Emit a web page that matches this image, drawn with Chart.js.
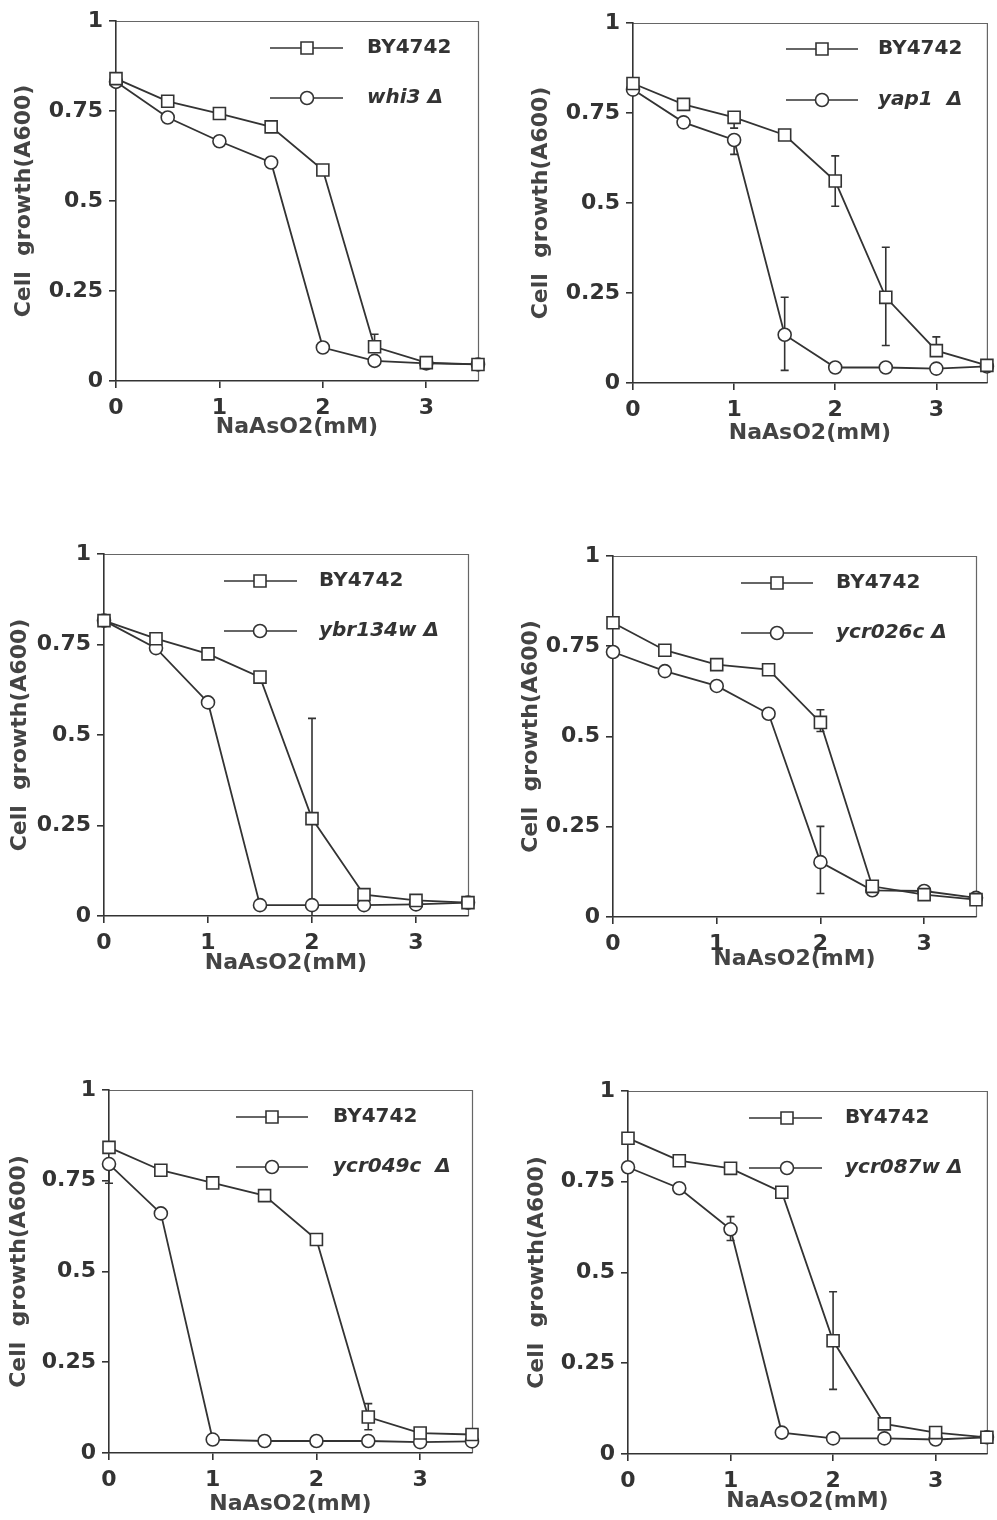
<!DOCTYPE html>
<html>
<head>
<meta charset="utf-8">
<script src="https://cdn.jsdelivr.net/npm/chart.js@4.4.0/dist/chart.umd.min.js"></script>
<style>
  body { margin: 0; background: #fff; }
  #wrap { position: relative; width: 997px; height: 1520px; overflow: hidden; background: #fff; }
  #wrap canvas { position: absolute; }
</style>
</head>
<body>
<div id="wrap"></div>
<script>
// NaAsO2 doses (mM) and axis ticks
const doses = [0, 0.5, 1, 1.5, 2, 2.5, 3, 3.5];
const xTickVals = [0, 1, 2, 3];
const yTickVals = [0, 0.25, 0.5, 0.75, 1];
const wtName = "BY4742";

// whi3 panel
const whi3Wt = [0.840, 0.777, 0.743, 0.706, 0.586, 0.095, 0.051, 0.046];
const whi3Mut = [0.831, 0.732, 0.666, 0.607, 0.093, 0.056, 0.049, 0.046];
const whi3WtErr = [null, null, null, null, null, [0.035, 0], null, null];
const whi3MutErr = [];

// yap1 panel
const yap1Wt = [0.832, 0.774, 0.738, 0.689, 0.561, 0.238, 0.090, 0.049];
const yap1Mut = [0.815, 0.724, 0.675, 0.134, 0.043, 0.043, 0.040, 0.046];
const yap1WtErr = [null, null, [0, 0.03], null, [0.07, 0.07], [0.139, 0.134], [0.038, 0], null];
const yap1MutErr = [null, null, [0, 0.04], [0.104, 0.099], null, null, null, null];

// ybr134w panel
const ybrWt = [0.816, 0.766, 0.724, 0.660, 0.269, 0.059, 0.043, 0.037];
const ybrMut = [0.816, 0.740, 0.590, 0.030, 0.030, 0.030, 0.032, 0.037];
const ybrWtErr = [null, null, null, null, [0.277, 0.269], null, null, null];
const ybrMutErr = [];

// ycr026c panel
const ycr026Wt = [0.815, 0.739, 0.699, 0.685, 0.539, 0.085, 0.062, 0.048];
const ycr026Mut = [0.734, 0.681, 0.640, 0.563, 0.152, 0.074, 0.072, 0.053];
const ycr026WtErr = [null, null, null, null, [0.035, 0.025], null, null, null];
const ycr026MutErr = [null, null, null, null, [0.099, 0.087], null, null, null];

// ycr049c panel
const ycr049Wt = [0.842, 0.779, 0.744, 0.709, 0.588, 0.099, 0.055, 0.051];
const ycr049Mut = [0.796, 0.660, 0.037, 0.033, 0.033, 0.033, 0.030, 0.032];
const ycr049WtErr = [null, null, null, null, null, [0.037, 0.035], null, null];
const ycr049MutErr = [[0, 0.053], null, null, null, null, null, null, null];

// ycr087w panel
const ycr087Wt = [0.870, 0.808, 0.787, 0.721, 0.312, 0.083, 0.059, 0.046];
const ycr087Mut = [0.790, 0.732, 0.619, 0.059, 0.043, 0.043, 0.040, 0.046];
const ycr087WtErr = [null, null, null, null, [0.135, 0.134], null, null, null];
const ycr087MutErr = [null, null, [0.035, 0.031], null, null, null, null, null];

const INK = "#333";
const FONT = "DejaVu Sans";

// page layout of each panel (canvas origin, plot area, title centres, legend)
const panels = [
  { mut: "whi3 \u0394", wt: whi3Wt, mv: whi3Mut, we: whi3WtErr, me: whi3MutErr,
    cx: 0, cy: 0, area: { l: 116, t: 21, r: 478, b: 381 }, yTitle: 24, xTitle: 426,
    leg: { x1: 270, x2: 343, mx: 307, tx: 367, rows: [48, 98] } },
  { mut: "yap1  \u0394", wt: yap1Wt, mv: yap1Mut, we: yap1WtErr, me: yap1MutErr,
    cx: 500, cy: 0, area: { l: 633, t: 23, r: 994, b: 383 }, yTitle: 541, xTitle: 432,
    leg: { x1: 786, x2: 858, mx: 822, tx: 878, rows: [49, 100] } },
  { mut: "ybr134w \u0394", wt: ybrWt, mv: ybrMut, we: ybrWtErr, me: ybrMutErr,
    cx: 0, cy: 500, area: { l: 104, t: 554, r: 468, b: 916 }, yTitle: 20, xTitle: 962,
    leg: { x1: 224, x2: 297, mx: 260, tx: 319, rows: [581, 631] } },
  { mut: "ycr026c \u0394", wt: ycr026Wt, mv: ycr026Mut, we: ycr026WtErr, me: ycr026MutErr,
    cx: 500, cy: 500, area: { l: 613, t: 556, r: 976, b: 917 }, yTitle: 531, xTitle: 958,
    leg: { x1: 741, x2: 813, mx: 777, tx: 836, rows: [583, 633] } },
  { mut: "ycr049c  \u0394", wt: ycr049Wt, mv: ycr049Mut, we: ycr049WtErr, me: ycr049MutErr,
    cx: 0, cy: 1040, area: { l: 109, t: 1090, r: 472, b: 1453 }, yTitle: 19, xTitle: 1503,
    leg: { x1: 236, x2: 308, mx: 272, tx: 333, rows: [1117, 1167] } },
  { mut: "ycr087w \u0394", wt: ycr087Wt, mv: ycr087Mut, we: ycr087WtErr, me: ycr087MutErr,
    cx: 500, cy: 1040, area: { l: 628, t: 1091, r: 991, b: 1454 }, yTitle: 537, xTitle: 1500,
    leg: { x1: 749, x2: 822, mx: 787, tx: 845, rows: [1118, 1168] } }
];

// vertical error bars, drawn under the markers
const errorBarPlugin = {
  id: "errorBars",
  beforeDatasetsDraw(chart) {
    const ctx = chart.ctx;
    const xs = chart.scales.x, ys = chart.scales.y;
    ctx.save();
    ctx.strokeStyle = INK;
    ctx.lineWidth = 1.6;
    chart.data.datasets.forEach(ds => {
      (ds.errorBars || []).forEach((e, i) => {
        if (!e) return;
        const pt = ds.data[i];
        const px = xs.getPixelForValue(pt.x);
        const top = ys.getPixelForValue(pt.y + e[0]);
        const bot = ys.getPixelForValue(Math.max(0, pt.y - e[1]));
        ctx.beginPath();
        ctx.moveTo(px, top);
        ctx.lineTo(px, bot);
        if (e[0] > 0) { ctx.moveTo(px - 4, top); ctx.lineTo(px + 4, top); }
        if (e[1] > 0 && pt.y - e[1] > 0) { ctx.moveTo(px - 4, bot); ctx.lineTo(px + 4, bot); }
        ctx.stroke();
      });
    });
    ctx.restore();
  }
};

// thin top/right frame of the plot box
const framePlugin = {
  id: "frame",
  beforeDraw(chart) {
    const { ctx, chartArea: a } = chart;
    ctx.save();
    ctx.strokeStyle = "#666";
    ctx.lineWidth = 1.2;
    ctx.beginPath();
    ctx.moveTo(a.left, a.top + 0.5);
    ctx.lineTo(a.right + 0.5, a.top + 0.5);
    ctx.lineTo(a.right + 0.5, a.bottom);
    ctx.stroke();
    ctx.restore();
  }
};

// legend inside the plot: line + marker + label
const legendPlugin = {
  id: "boxLegend",
  afterDraw(chart, args, opts) {
    const ctx = chart.ctx;
    chart.data.datasets.forEach((ds, i) => {
      const y = opts.rows[i];
      ctx.save();
      ctx.strokeStyle = INK;
      ctx.lineWidth = 1.6;
      ctx.beginPath();
      ctx.moveTo(opts.x1, y);
      ctx.lineTo(opts.x2, y);
      ctx.stroke();
      ctx.fillStyle = "#fff";
      ctx.beginPath();
      if (ds.pointStyle === "rect") {
        ctx.rect(opts.mx - 6, y - 6, 12, 12);
      } else {
        ctx.arc(opts.mx, y, 6.5, 0, Math.PI * 2);
      }
      ctx.fill();
      ctx.stroke();
      ctx.fillStyle = INK;
      ctx.font = (i ? "italic " : "") + "bold 20px '" + FONT + "'";
      ctx.textBaseline = "middle";
      ctx.fillText(ds.label, opts.tx, y);
      ctx.restore();
    });
  }
};

const wrap = document.getElementById("wrap");

panels.forEach(p => {
  const W = 497;
  const H = Math.ceil(p.xTitle - p.cy + 13.2 + 2);
  const canvas = document.createElement("canvas");
  canvas.width = W;
  canvas.height = H;
  canvas.style.left = p.cx + "px";
  canvas.style.top = p.cy + "px";
  wrap.appendChild(canvas);

  const yW = p.area.l - p.cx;
  const xH = p.cy + H - p.area.b;
  const leg = {
    x1: p.leg.x1 - p.cx, x2: p.leg.x2 - p.cx, mx: p.leg.mx - p.cx, tx: p.leg.tx - p.cx,
    rows: p.leg.rows.map(r => r - p.cy)
  };
  const tickFont = { family: FONT, size: 22, weight: "bold" };

  new Chart(canvas, {
    type: "line",
    data: {
      datasets: [
        {
          label: wtName,
          data: doses.map((d, i) => ({ x: d, y: p.wt[i] })),
          errorBars: p.we,
          pointStyle: "rect",
          pointRadius: 8.5,
          borderColor: INK,
          borderWidth: 1.8,
          pointBorderColor: INK,
          pointBackgroundColor: "#fff",
          pointBorderWidth: 1.6,
          tension: 0,
          clip: false
        },
        {
          label: p.mut,
          data: doses.map((d, i) => ({ x: d, y: p.mv[i] })),
          errorBars: p.me,
          pointStyle: "circle",
          pointRadius: 6.5,
          borderColor: INK,
          borderWidth: 1.8,
          pointBorderColor: INK,
          pointBackgroundColor: "#fff",
          pointBorderWidth: 1.6,
          tension: 0,
          clip: false
        }
      ]
    },
    options: {
      responsive: false,
      animation: false,
      events: [],
      layout: { padding: { top: p.area.t - p.cy, right: p.cx + W - p.area.r, left: 0, bottom: 0 } },
      plugins: {
        legend: { display: false },
        tooltip: { enabled: false },
        boxLegend: leg
      },
      scales: {
        x: {
          type: "linear",
          min: 0,
          max: 3.5,
          afterBuildTicks: s => { s.ticks = xTickVals.map(v => ({ value: v })); },
          afterFit: s => { s.height = xH; },
          border: { color: INK, width: 1.6 },
          grid: { drawOnChartArea: false, drawTicks: true, tickLength: 7, color: INK, lineWidth: 1.6 },
          ticks: { color: INK, font: tickFont, padding: 7, maxRotation: 0, callback: v => String(v) },
          title: { display: true, text: "NaAsO2(mM)", color: "#444", font: tickFont, padding: { top: 0, bottom: 2 } }
        },
        y: {
          type: "linear",
          min: 0,
          max: 1,
          afterBuildTicks: s => { s.ticks = yTickVals.map(v => ({ value: v })); },
          afterFit: s => { s.width = yW; },
          border: { color: INK, width: 1.6 },
          grid: { drawOnChartArea: false, drawTicks: true, tickLength: 7, color: INK, lineWidth: 1.6 },
          ticks: { color: INK, font: tickFont, padding: 6, callback: v => String(v) },
          title: { display: true, text: "Cell  growth(A600)", color: "#444", font: tickFont,
                   padding: { top: p.yTitle - p.cx - 13.2, bottom: 0 } }
        }
      }
    },
    plugins: [framePlugin, errorBarPlugin, legendPlugin]
  });
});
</script>
</body>
</html>
